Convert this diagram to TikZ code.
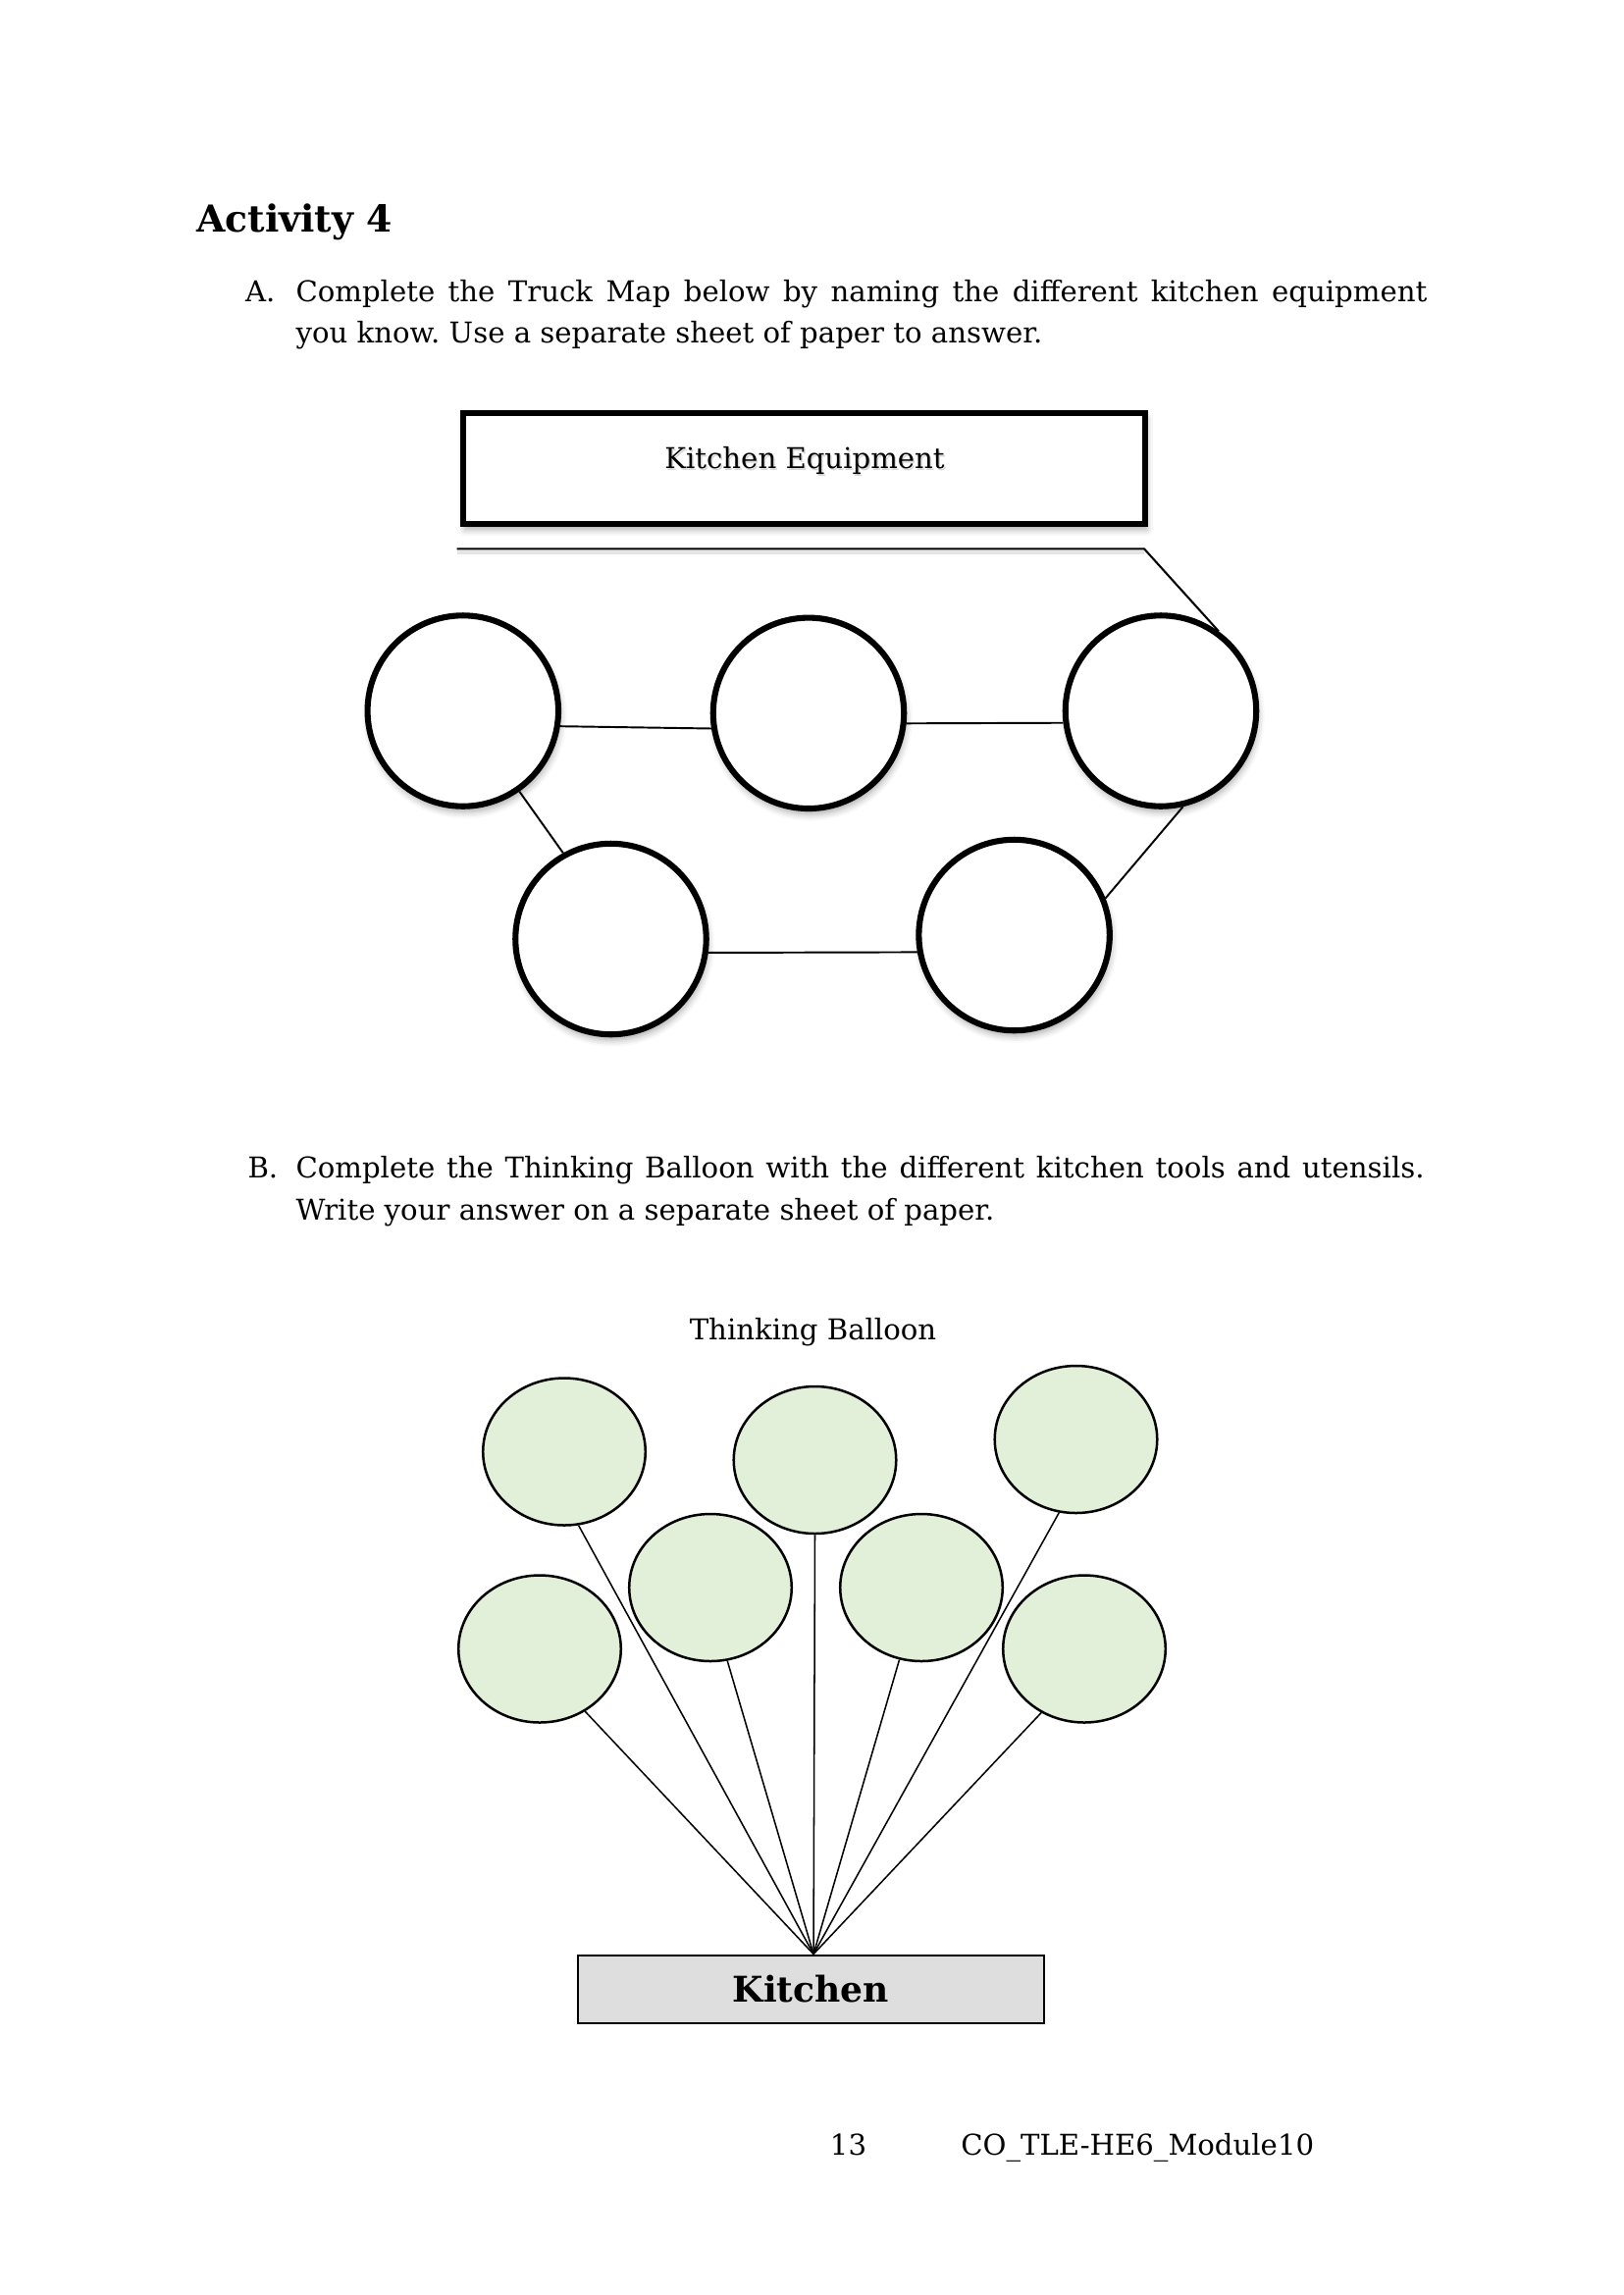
\documentclass[tikz,border=0pt]{standalone}
\usepackage{fontspec}
\setmainfont{DejaVu Serif}
\usetikzlibrary{shapes.geometric,shadows.blur}
\definecolor{balloonfill}{HTML}{E2EFD9}
\definecolor{kitchenfill}{HTML}{DEDEDE}
\newcommand{\justline}[2]{\makebox[#1][s]{\spaceskip=0pt plus 1fil\relax #2}}
\begin{document}
\frenchspacing
\begin{tikzpicture}[x=0.36pt,y=-0.36pt,
  body/.style={inner sep=0pt, anchor=base west, font=\fontsize{10.5}{12}\selectfont},
  ring/.style={circle, draw, line width=2.2pt, fill=white, minimum size=70pt, inner sep=0pt,
    blur shadow={shadow xshift=0.6pt, shadow yshift=-2pt, shadow blur radius=2.5pt, shadow opacity=35}},
  ebox/.style={rectangle, draw, line width=2.2pt, fill=white, minimum width=250pt, minimum height=40.6pt, inner sep=0pt,
    blur shadow={shadow xshift=0.6pt, shadow yshift=-2pt, shadow blur radius=2.5pt, shadow opacity=35}},
  conn/.style={line width=0.7pt},
  bal/.style={ellipse, draw, line width=0.9pt, fill=balloonfill, minimum width=59.6pt, minimum height=54pt, inner sep=0pt},
  string/.style={line width=0.55pt},
  kbox/.style={rectangle, draw, line width=0.9pt, fill=kitchenfill, minimum width=171pt, minimum height=25pt, inner sep=0pt}
]
\useasboundingbox (0,0) rectangle (1654,2339);

% Heading
\node[body, font=\fontsize{13.6}{15}\bfseries] (title) at (200,236) {Activity 4};

% Part A text
\node[body] (Alabel) at (249.5,307) {A.};
\node[body] (A1) at (301,307) {\justline{415pt}{Complete the Truck Map below by naming the different kitchen equipment}};
\node[body] (A2) at (301,349) {you know. Use a separate sheet of paper to answer.};

% Kitchen Equipment box
\node[ebox] (KE) at (819.5,477.5) {};
\node[body, anchor=base, text=black!30, opacity=0.5] (KEshadow) at (821.5,479.5) {Kitchen Equipment};
\node[body, anchor=base] (KEtext) at (820,477) {Kitchen Equipment};

% Truck map circles
\node[ring] (C1) at (471.8,724.5) {};
\node[ring] (C2) at (824,726.8) {};
\node[ring] (C3) at (1183,724.5) {};
\node[ring] (C4) at (622.5,957) {};
\node[ring] (C5) at (1033.6,953) {};

% underline and link to the last circle
\coordinate (ul) at (465.7,559.3);
\coordinate (ur) at (1166,559.3);
\draw[black!10, line width=1.6pt] ([yshift=-1.4pt]ul) -- ([yshift=-1.4pt]ur);
\draw[line width=0.75pt] (ul) -- (ur) -- (C3.54);

\draw[conn] (C1.-9) -- (C2.189);
\draw[conn] (C2.-6) -- (C3.187);
\draw[conn] (C1.-55) -- (C4.119);
\draw[conn] (C3.-77) -- (C5.22);
\draw[conn] (C4.-8) -- (C5.190);

% Part B text
\node[body] (Blabel) at (252,1200) {B.};
\node[body] (B1t) at (301,1200) {\justline{414pt}{Complete the Thinking Balloon with the different kitchen tools and utensils.}};
\node[body] (B2t) at (301,1243) {Write your answer on a separate sheet of paper.};

\node[body, anchor=base] (TB) at (828.5,1365) {Thinking Balloon};

% Kitchen box
\node[kbox, font=\fontsize{13}{15}\bfseries] (K) at (826.25,2027.5) {Kitchen};
\coordinate (apex) at ([xshift=1pt]K.north);

% Balloons
\node[bal] (B1) at (575,1479.5) {};
\node[bal] (B2) at (830.5,1488) {};
\node[bal] (B3) at (1096.5,1467) {};
\node[bal] (B4) at (550,1680.5) {};
\node[bal] (B5) at (724,1618) {};
\node[bal] (B6) at (939,1618) {};
\node[bal] (B7) at (1105,1680.5) {};

\draw[string] (B1.-79) -- (apex);
\draw[string] (B4.-54) -- (apex);
\draw[string] (B5.-77) -- (apex);
\draw[string] (B2.-90) -- (apex);
\draw[string] (B6.-107) -- (apex);
\draw[string] (B3.-103) -- (apex);
\draw[string] (B7.-124) -- (apex);

% Footer
\node[body] (page) at (845.4,2196) {13};
\node[body] (module) at (978.8,2196) {CO\_TLE-HE6\_Module10};
\end{tikzpicture}
\end{document}
